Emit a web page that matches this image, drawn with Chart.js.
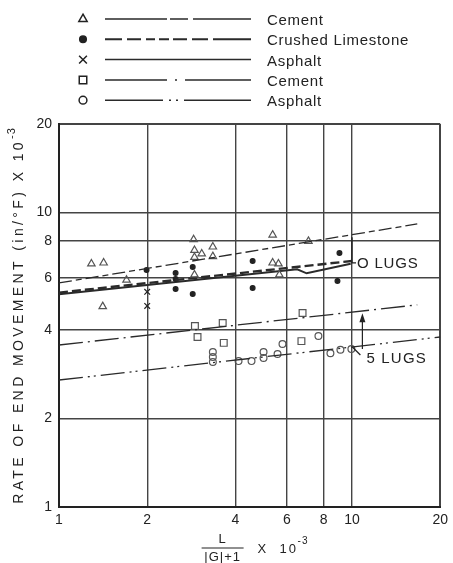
<!DOCTYPE html>
<html>
<head>
<meta charset="utf-8">
<script src="https://cdn.jsdelivr.net/npm/chart.js@4.4.1/dist/chart.umd.min.js"></script>
<style>
  html, body { margin: 0; padding: 0; background: #fff; }
  #grafico { display: block; }
</style>
</head>
<body>
<canvas id="grafico" width="453" height="563"></canvas>
<script>
// Eixos log-log (L/(|G|+1) x 10^-3 contra taxa de movimento x 10^-3)
const xTicks = [1, 2, 4, 6, 8, 10, 20];
const yTicks = [1, 2, 4, 6, 8, 10, 20];

// Δ Cement (0 lugs)
const cementTriX = [1.29, 1.42, 1.41, 1.70, 2.88, 2.90, 2.90, 3.07, 3.35, 3.35, 2.90, 5.36, 7.10, 5.36, 5.61, 5.65];
const cementTriY = [6.70, 6.75, 4.80, 5.90, 8.10, 7.45, 7.05, 7.25, 7.65, 7.10, 6.15, 8.40, 8.00, 6.75, 6.70, 6.15];
const cementTriLineX = [1, 16.7];
const cementTriLineY = [5.77, 9.15];

// ● Crushed Limestone (0 lugs)
const limestoneX = [1.99, 2.50, 2.50, 2.50, 2.86, 2.86, 4.58, 4.58, 9.06, 8.92];
const limestoneY = [6.38, 6.24, 5.95, 5.50, 6.54, 5.29, 6.85, 5.55, 7.29, 5.86];
const limestoneLineX = [1, 10];
const limestoneLineY = [5.35, 6.85];

// X Asphalt (0 lugs)
const asphaltXX = [2.0, 2.0];
const asphaltXY = [5.38, 4.82];
const asphaltXLineX = [1, 6.5, 7.0, 9.9];
const asphaltXLineY = [5.28, 6.42, 6.22, 6.70];

// □ Cement (5 lugs)
const cementSqX = [2.91, 2.97, 3.62, 3.65, 6.78, 6.72];
const cementSqY = [4.12, 3.78, 4.22, 3.61, 4.56, 3.66];
const cementSqLineX = [1, 16.7];
const cementSqLineY = [3.55, 4.86];

// ○ Asphalt (5 lugs)
const asphaltOX = [3.35, 3.35, 3.35, 4.10, 4.54, 4.99, 4.99, 5.57, 5.79, 7.68, 8.44, 9.13, 9.95];
const asphaltOY = [3.36, 3.23, 3.11, 3.13, 3.13, 3.36, 3.21, 3.31, 3.58, 3.81, 3.33, 3.42, 3.44];
const asphaltOLineX = [1, 20];
const asphaltOLineY = [2.70, 3.78];

// Anotações "0 LUGS" e "5 LUGS"
const zeroLugsX = 10, zeroLugsY = [8.25, 6.75];
const fiveLugsX = 10.85, fiveLugsY = [3.44, 4.55];

const FONT = '"Liberation Sans", Arial, sans-serif';
const INK = '#222';

const pares = (xs, ys) => xs.map((x, i) => ({ x: x, y: ys[i] }));

// dash = traço no gráfico, legDash = traço (mais longo) na legenda
const series = [
    { label: 'Cement', style: 'triangle', xs: cementTriX, ys: cementTriY, lx: cementTriLineX, ly: cementTriLineY,
      dash: [13, 4, 6, 4], legDash: [62, 3, 18, 5, 70], width: 1.3, radius: 4.3, hollow: true },
    { label: 'Crushed Limestone', style: 'circle', xs: limestoneX, ys: limestoneY, lx: limestoneLineX, ly: limestoneLineY,
      dash: [9, 4], legDash: [17, 5, 14, 5, 9, 4, 10, 4, 14, 5, 16, 5, 40], width: 2.4, radius: 2.4, hollow: false },
    { label: 'Asphalt', style: 'crossRot', xs: asphaltXX, ys: asphaltXY, lx: asphaltXLineX, ly: asphaltXLineY,
      dash: [], legDash: [], width: 2, radius: 4, hollow: false },
    { label: 'Cement', style: 'rect', xs: cementSqX, ys: cementSqY, lx: cementSqLineX, ly: cementSqLineY,
      dash: [24, 5, 2, 5], legDash: [62, 8, 2, 8, 70], width: 1.3, radius: 4.8, hollow: true },
    { label: 'Asphalt', style: 'circle', xs: asphaltOX, ys: asphaltOY, lx: asphaltOLineX, ly: asphaltOLineY,
      dash: [24, 5, 2, 4, 2, 5], legDash: [58, 6, 2, 5, 2, 6, 70], width: 1.3, radius: 3.4, hollow: true }
];

const datasets = [];
series.forEach(s => {
    datasets.push({
        type: 'line',
        data: pares(s.lx, s.ly),
        borderColor: '#2a2a2a',
        borderWidth: s.width,
        borderDash: s.dash,
        pointRadius: 0,
        fill: false,
        tension: 0
    });
    datasets.push({
        type: 'scatter',
        data: pares(s.xs, s.ys),
        pointStyle: s.style,
        pointRadius: s.radius,
        pointBorderWidth: 1.2,
        pointBorderColor: s.hollow ? '#555' : '#222',
        pointBackgroundColor: s.hollow ? 'rgba(255,255,255,0)' : '#222'
    });
});

function desenhaMarcador(ctx, s, x, y) {
    ctx.save();
    ctx.strokeStyle = '#222';
    ctx.fillStyle = s.hollow ? '#fff' : '#222';
    ctx.lineWidth = 1.5;
    ctx.setLineDash([]);
    let r = s.radius + 0.5;
    if (s.style === 'circle' && !s.hollow) r = 3.3;
    if (s.style === 'crossRot') r = 5.5;
    Chart.helpers.drawPoint(ctx, { pointStyle: s.style, radius: r, borderWidth: 1.5, rotation: 0 }, x, y);
    ctx.restore();
}

// Legenda, títulos dos eixos e anotações desenhados à mão
const extras = {
    id: 'extras',
    afterDatasetsDraw(chart) {
        const ctx = chart.ctx;
        const xs = chart.scales.x, ys = chart.scales.y;
        ctx.save();
        ctx.strokeStyle = '#222';
        ctx.fillStyle = INK;
        ctx.lineWidth = 1.4;

        // 0 LUGS
        const bx = xs.getPixelForValue(zeroLugsX);
        const by1 = ys.getPixelForValue(zeroLugsY[0]);
        const by2 = ys.getPixelForValue(zeroLugsY[1]);
        ctx.beginPath();
        ctx.moveTo(bx, by1);
        ctx.lineTo(bx, by2);
        ctx.lineTo(bx + 4, by2);
        ctx.stroke();
        ctx.font = '15px ' + FONT;
        ctx.letterSpacing = '0.8px';
        ctx.textBaseline = 'middle';
        ctx.textAlign = 'left';
        ctx.fillText('O LUGS', bx + 5, by2 + 1);

        // 5 LUGS
        const ax = xs.getPixelForValue(fiveLugsX);
        const ay1 = ys.getPixelForValue(fiveLugsY[0]);
        const ay2 = ys.getPixelForValue(fiveLugsY[1]);
        ctx.lineWidth = 1.2;
        ctx.beginPath();
        ctx.moveTo(ax, ay1);
        ctx.lineTo(ax, ay2 + 6);
        ctx.stroke();
        ctx.beginPath();
        ctx.moveTo(ax, ay2);
        ctx.lineTo(ax - 3, ay2 + 9);
        ctx.lineTo(ax + 3, ay2 + 9);
        ctx.closePath();
        ctx.fill();
        ctx.beginPath();
        ctx.moveTo(ax - 10, ay1 - 2);
        ctx.lineTo(ax - 2, ay1 + 6);
        ctx.stroke();
        ctx.letterSpacing = '1.2px';
        ctx.fillText('5 LUGS', ax + 4, ay1 + 10);
        ctx.restore();
    },
    afterDraw(chart) {
        const ctx = chart.ctx;
        const area = chart.chartArea;
        ctx.save();

        // Legenda
        series.forEach((s, i) => {
            const y = 19 + i * 20.3;
            desenhaMarcador(ctx, s, 83, y);
            ctx.strokeStyle = '#2a2a2a';
            ctx.lineWidth = s.width > 2 ? 2 : 1.5;
            ctx.setLineDash(s.legDash);
            ctx.beginPath();
            ctx.moveTo(105, y);
            ctx.lineTo(251, y);
            ctx.stroke();
            ctx.setLineDash([]);
            ctx.fillStyle = INK;
            ctx.font = '15px ' + FONT;
            ctx.letterSpacing = '0.7px';
            ctx.textAlign = 'left';
            ctx.textBaseline = 'middle';
            ctx.fillText(s.label, 267, y + 2);
        });

        // Título do eixo Y
        ctx.save();
        ctx.translate(19, (area.top + area.bottom) / 2 + 0);
        ctx.rotate(-Math.PI / 2);
        ctx.font = '14px ' + FONT;
        ctx.letterSpacing = '3.4px';
        ctx.textBaseline = 'middle';
        const principal = 'RATE OF END MOVEMENT (in/°F) X 10';
        const wp = ctx.measureText(principal).width;
        ctx.font = '11px ' + FONT;
        ctx.letterSpacing = '1px';
        const expo = '-3';
        const we = ctx.measureText(expo).width;
        const inicio = -(wp + we) / 2;
        ctx.font = '14px ' + FONT;
        ctx.letterSpacing = '3.4px';
        ctx.textAlign = 'left';
        ctx.fillText(principal, inicio, 0);
        ctx.font = '11px ' + FONT;
        ctx.letterSpacing = '1px';
        ctx.fillText(expo, inicio + wp, -7);
        ctx.restore();

        // Título do eixo X (fração)
        const cx = (area.left + area.right) / 2;
        ctx.fillStyle = INK;
        ctx.strokeStyle = INK;
        ctx.textAlign = 'center';
        ctx.textBaseline = 'middle';
        ctx.font = '13px ' + FONT;
        ctx.letterSpacing = '1px';
        ctx.fillText('L', cx - 27, 539);
        ctx.lineWidth = 1.2;
        ctx.beginPath();
        ctx.moveTo(cx - 48, 548);
        ctx.lineTo(cx - 6, 548);
        ctx.stroke();
        ctx.fillText('|G|+1', cx - 27, 557);
        ctx.textAlign = 'left';
        ctx.letterSpacing = '2px';
        ctx.fillText('X  10', cx + 8, 549);
        ctx.font = '10px ' + FONT;
        ctx.letterSpacing = '1px';
        ctx.fillText('-3', cx + 48, 541);
        ctx.restore();
    }
};

const ctx = document.getElementById('grafico').getContext('2d');
new Chart(ctx, {
    type: 'scatter',
    data: { datasets: datasets },
    options: {
        responsive: false,
        animation: false,
        layout: { padding: { top: 124, right: 12, left: 0, bottom: 0 } },
        plugins: {
            legend: { display: false },
            tooltip: { enabled: false }
        },
        scales: {
            x: {
                type: 'logarithmic',
                min: 1,
                max: 20,
                afterBuildTicks: scale => { scale.ticks = xTicks.map(v => ({ value: v })); },
                afterFit: scale => { scale.height = 56; },
                border: { display: true, width: 2, color: '#222' },
                grid: {
                    color: '#444',
                    lineWidth: c => (c.tick && (c.tick.value === 1 || c.tick.value === 20)) ? 2 : 1.4,
                    drawTicks: false
                },
                ticks: {
                    autoSkip: false,
                    maxRotation: 0,
                    padding: 5,
                    color: INK,
                    font: { family: FONT, size: 14 },
                    callback: v => String(v)
                }
            },
            y: {
                type: 'logarithmic',
                min: 1,
                max: 20,
                afterBuildTicks: scale => { scale.ticks = yTicks.map(v => ({ value: v })); },
                afterFit: scale => { scale.width = 59; },
                border: { display: true, width: 2, color: '#222' },
                grid: {
                    color: '#444',
                    lineWidth: c => (c.tick && (c.tick.value === 1 || c.tick.value === 20)) ? 2 : 1.4,
                    drawTicks: false
                },
                ticks: {
                    autoSkip: false,
                    padding: 7,
                    color: INK,
                    font: { family: FONT, size: 14 },
                    callback: v => String(v)
                }
            }
        }
    },
    plugins: [extras]
});
</script>
</body>
</html>
